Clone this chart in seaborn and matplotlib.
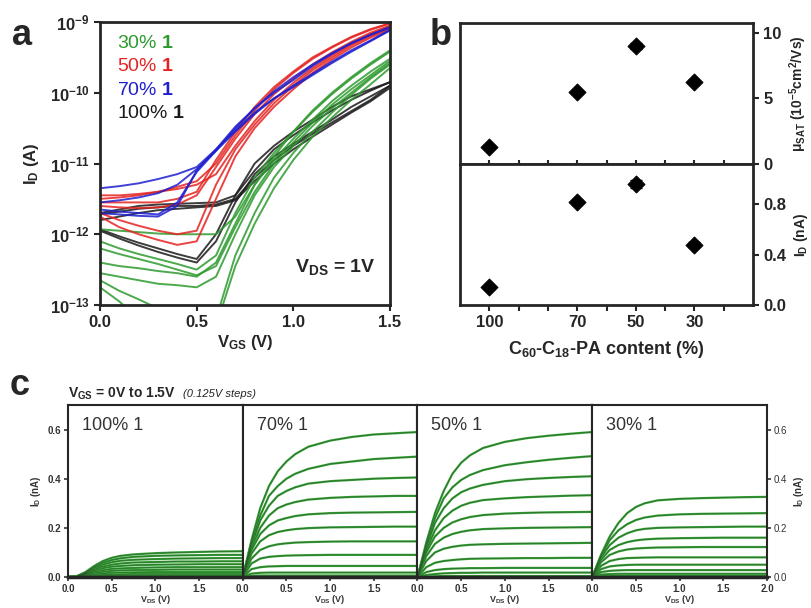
import numpy as np
import pandas as pd
import matplotlib
matplotlib.use("Agg")
import matplotlib.pyplot as plt
import seaborn as sns

sns.set_style("ticks")
plt.rcParams["font.family"] = ["Liberation Sans", "DejaVu Sans"]
plt.rcParams["mathtext.fontset"] = "custom"
plt.rcParams["mathtext.rm"] = "Liberation Sans"
plt.rcParams["mathtext.it"] = "Liberation Sans:italic"
plt.rcParams["mathtext.bf"] = "Liberation Sans:bold"

# ---------------- Panel a data: log10(I_D / A) vs V_GS ----------------
VGS_A = [0.0, 0.1, 0.2, 0.3, 0.4, 0.5, 0.6, 0.7, 0.8, 0.9, 1.0, 1.1, 1.2, 1.3, 1.4, 1.5]

logid_100 = [
    [-11.70, -11.65, -11.60, -11.58, -11.57, -11.56, -11.55, -11.45, -11.10, -10.80, -10.60, -10.42, -10.25, -10.10, -9.97, -9.85],
    [-11.72, -11.68, -11.64, -11.62, -11.60, -11.60, -11.58, -11.50, -11.20, -10.95, -10.75, -10.58, -10.42, -10.26, -10.10, -9.90],
    [-11.93, -12.03, -12.12, -12.20, -12.28, -12.35, -12.00, -11.45, -11.00, -10.75, -10.55, -10.38, -10.20, -10.05, -9.95, -9.85],
    [-11.95, -12.06, -12.16, -12.25, -12.33, -12.40, -12.10, -11.55, -11.15, -10.90, -10.72, -10.55, -10.38, -10.20, -10.05, -9.90],
    [-11.80, -11.75, -11.70, -11.66, -11.64, -11.62, -11.60, -11.52, -11.25, -11.00, -10.80, -10.62, -10.45, -10.28, -10.12, -9.93],
]
logid_70 = [
    [-11.35, -11.32, -11.28, -11.22, -11.15, -11.05, -10.80, -10.48, -10.22, -10.00, -9.82, -9.62, -9.45, -9.30, -9.18, -9.07],
    [-11.70, -11.72, -11.74, -11.75, -11.60, -11.10, -10.80, -10.53, -10.28, -10.08, -9.92, -9.75, -9.58, -9.42, -9.27, -9.12],
    [-11.55, -11.52, -11.48, -11.42, -11.30, -11.08, -10.82, -10.50, -10.22, -9.98, -9.78, -9.60, -9.44, -9.30, -9.18, -9.08],
    [-11.65, -11.68, -11.70, -11.72, -11.55, -11.12, -10.82, -10.55, -10.30, -10.08, -9.90, -9.73, -9.56, -9.40, -9.26, -9.11],
]
logid_50 = [
    [-11.50, -11.48, -11.45, -11.40, -11.33, -11.25, -11.00, -10.60, -10.25, -9.95, -9.72, -9.52, -9.36, -9.22, -9.11, -9.02],
    [-11.60, -11.62, -11.63, -11.62, -11.58, -11.45, -11.05, -10.65, -10.30, -10.02, -9.80, -9.60, -9.43, -9.28, -9.15, -9.05],
    [-11.70, -11.80, -11.88, -11.95, -12.00, -11.95, -11.30, -10.80, -10.45, -10.15, -9.90, -9.68, -9.50, -9.33, -9.20, -9.08],
    [-11.75, -11.90, -12.00, -12.08, -12.15, -12.10, -11.50, -10.90, -10.50, -10.20, -9.95, -9.72, -9.53, -9.36, -9.22, -9.10],
    [-11.45, -11.45, -11.43, -11.40, -11.36, -11.30, -11.15, -10.75, -10.40, -10.10, -9.86, -9.65, -9.47, -9.31, -9.17, -9.06],
    [-11.55, -11.55, -11.55, -11.55, -11.50, -11.40, -10.95, -10.55, -10.20, -9.92, -9.70, -9.50, -9.35, -9.21, -9.10, -9.02],
]
logid_30 = [
    [-11.93, -11.95, -11.97, -11.99, -12.00, -12.00, -12.00, -11.75, -11.30, -10.90, -10.55, -10.25, -10.00, -9.78, -9.58, -9.40],
    [-12.10, -12.20, -12.28, -12.35, -12.42, -12.50, -12.30, -11.70, -11.20, -10.85, -10.55, -10.27, -10.02, -9.80, -9.60, -9.42],
    [-12.40, -12.45, -12.48, -12.52, -12.55, -12.60, -12.40, -11.85, -11.30, -10.95, -10.65, -10.38, -10.12, -9.90, -9.70, -9.52],
    [-12.20, -12.28, -12.35, -12.42, -12.50, -12.58, -12.45, -11.90, -11.40, -11.00, -10.70, -10.42, -10.17, -9.95, -9.75, -9.55],
    [-12.55, -12.60, -12.65, -12.70, -12.72, -12.75, -12.60, -12.00, -11.45, -11.05, -10.75, -10.47, -10.22, -10.00, -9.78, -9.58],
    [-12.75, -12.95, -13.20, -13.40, -13.50, -13.50, -13.30, -12.45, -11.85, -11.35, -10.95, -10.62, -10.35, -10.10, -9.88, -9.65],
    [-12.65, -12.80, -12.92, -13.05, -13.20, -13.30, -13.20, -12.30, -11.70, -11.20, -10.85, -10.55, -10.28, -10.03, -9.80, -9.60],
]

# ---------------- Panel b data ----------------
content = [100, 70, 50, 30]
mobility = [1.3, 5.5, 9.0, 6.25]
mobility_err = [0.15, 0.15, 0.25, 0.15]
id_sat = [0.14, 0.82, 0.96, 0.48]
id_sat_err = [0.01, 0.015, 0.03, 0.02]

# ---------------- Panel c data: I_D (nA) vs V_DS ----------------
VDS_C = [0.0, 0.1, 0.2, 0.3, 0.4, 0.5, 0.6, 0.75, 1.0, 1.25, 1.5, 1.75, 2.0]

out_100 = [
    [0, 0.003, 0.020, 0.045, 0.065, 0.078, 0.086, 0.092, 0.097, 0.100, 0.102, 0.104, 0.105],
    [0, 0.003, 0.018, 0.040, 0.058, 0.069, 0.076, 0.082, 0.086, 0.088, 0.089, 0.090, 0.090],
    [0, 0.002, 0.016, 0.036, 0.051, 0.060, 0.066, 0.070, 0.073, 0.075, 0.076, 0.077, 0.077],
    [0, 0.002, 0.014, 0.031, 0.043, 0.050, 0.055, 0.059, 0.061, 0.063, 0.063, 0.064, 0.064],
    [0, 0.002, 0.012, 0.026, 0.036, 0.042, 0.045, 0.048, 0.050, 0.051, 0.052, 0.052, 0.052],
    [0, 0.001, 0.010, 0.021, 0.028, 0.033, 0.035, 0.037, 0.039, 0.040, 0.040, 0.040, 0.040],
    [0, 0.001, 0.008, 0.016, 0.021, 0.025, 0.027, 0.028, 0.029, 0.030, 0.030, 0.030, 0.030],
    [0, 0.001, 0.006, 0.011, 0.015, 0.017, 0.018, 0.019, 0.020, 0.020, 0.020, 0.020, 0.020],
    [0, 0.000, 0.004, 0.007, 0.009, 0.010, 0.011, 0.012, 0.012, 0.012, 0.012, 0.012, 0.012],
    [0, 0.000, 0.002, 0.004, 0.005, 0.006, 0.006, 0.006, 0.006, 0.006, 0.006, 0.006, 0.006],
    [0, 0.000, 0.001, 0.002, 0.002, 0.002, 0.002, 0.002, 0.002, 0.002, 0.002, 0.002, 0.002],
]
out_70 = [
    [0, 0.150, 0.280, 0.370, 0.430, 0.470, 0.500, 0.530, 0.555, 0.570, 0.580, 0.585, 0.590],
    [0, 0.140, 0.250, 0.330, 0.370, 0.400, 0.420, 0.440, 0.460, 0.470, 0.480, 0.485, 0.490],
    [0, 0.130, 0.230, 0.290, 0.330, 0.350, 0.365, 0.380, 0.390, 0.395, 0.400, 0.403, 0.405],
    [0, 0.120, 0.200, 0.250, 0.280, 0.295, 0.305, 0.315, 0.322, 0.326, 0.328, 0.330, 0.330],
    [0, 0.110, 0.175, 0.210, 0.230, 0.240, 0.248, 0.255, 0.260, 0.262, 0.263, 0.264, 0.265],
    [0, 0.095, 0.145, 0.170, 0.183, 0.190, 0.195, 0.199, 0.202, 0.203, 0.204, 0.205, 0.205],
    [0, 0.075, 0.110, 0.125, 0.133, 0.137, 0.140, 0.142, 0.144, 0.145, 0.145, 0.145, 0.145],
    [0, 0.055, 0.075, 0.082, 0.085, 0.087, 0.088, 0.089, 0.090, 0.090, 0.090, 0.090, 0.090],
    [0, 0.032, 0.040, 0.043, 0.044, 0.045, 0.045, 0.045, 0.045, 0.045, 0.045, 0.045, 0.045],
    [0, 0.014, 0.017, 0.018, 0.018, 0.018, 0.018, 0.018, 0.018, 0.018, 0.018, 0.018, 0.018],
    [0, 0.005, 0.006, 0.006, 0.006, 0.006, 0.006, 0.006, 0.006, 0.006, 0.006, 0.006, 0.006],
]
out_50 = [
    [0, 0.140, 0.260, 0.350, 0.420, 0.465, 0.495, 0.525, 0.550, 0.565, 0.575, 0.583, 0.590],
    [0, 0.130, 0.240, 0.320, 0.365, 0.395, 0.415, 0.435, 0.455, 0.467, 0.477, 0.485, 0.492],
    [0, 0.120, 0.220, 0.280, 0.320, 0.345, 0.360, 0.375, 0.390, 0.398, 0.403, 0.407, 0.410],
    [0, 0.110, 0.190, 0.240, 0.270, 0.290, 0.302, 0.313, 0.320, 0.325, 0.328, 0.331, 0.333],
    [0, 0.100, 0.165, 0.200, 0.222, 0.235, 0.244, 0.252, 0.258, 0.261, 0.263, 0.264, 0.265],
    [0, 0.085, 0.135, 0.160, 0.175, 0.184, 0.190, 0.195, 0.198, 0.200, 0.201, 0.202, 0.203],
    [0, 0.065, 0.100, 0.115, 0.123, 0.128, 0.131, 0.133, 0.135, 0.136, 0.137, 0.138, 0.139],
    [0, 0.040, 0.058, 0.065, 0.069, 0.072, 0.074, 0.075, 0.076, 0.077, 0.077, 0.078, 0.078],
    [0, 0.020, 0.028, 0.032, 0.034, 0.035, 0.036, 0.036, 0.037, 0.037, 0.037, 0.037, 0.037],
    [0, 0.008, 0.012, 0.015, 0.016, 0.017, 0.017, 0.018, 0.018, 0.018, 0.018, 0.018, 0.018],
    [0, 0.002, 0.003, 0.004, 0.004, 0.004, 0.004, 0.004, 0.004, 0.004, 0.004, 0.004, 0.004],
]
out_30 = [
    [0, 0.090, 0.165, 0.220, 0.260, 0.285, 0.300, 0.312, 0.318, 0.321, 0.323, 0.325, 0.326],
    [0, 0.085, 0.150, 0.190, 0.215, 0.232, 0.242, 0.250, 0.255, 0.257, 0.258, 0.259, 0.260],
    [0, 0.080, 0.130, 0.160, 0.178, 0.190, 0.196, 0.200, 0.202, 0.203, 0.204, 0.205, 0.205],
    [0, 0.070, 0.110, 0.130, 0.142, 0.149, 0.153, 0.156, 0.158, 0.159, 0.160, 0.160, 0.160],
    [0, 0.060, 0.090, 0.104, 0.112, 0.116, 0.118, 0.120, 0.121, 0.122, 0.122, 0.122, 0.122],
    [0, 0.045, 0.065, 0.073, 0.077, 0.078, 0.079, 0.080, 0.080, 0.080, 0.080, 0.080, 0.080],
    [0, 0.032, 0.043, 0.047, 0.049, 0.050, 0.050, 0.050, 0.050, 0.050, 0.050, 0.050, 0.050],
    [0, 0.020, 0.025, 0.027, 0.028, 0.028, 0.028, 0.028, 0.028, 0.028, 0.028, 0.028, 0.028],
    [0, 0.010, 0.012, 0.013, 0.013, 0.013, 0.013, 0.013, 0.013, 0.013, 0.013, 0.013, 0.013],
    [0, 0.004, 0.005, 0.005, 0.005, 0.005, 0.005, 0.005, 0.005, 0.005, 0.005, 0.005, 0.005],
]

panel_c_labels = ["100% 1", "70% 1", "50% 1", "30% 1"]
legend_a = ["30%", "50%", "70%", "100%"]

GREEN = "#2e9a2e"
RED = "#e52421"
BLUE = "#1f1fd0"
BLACK = "#1a1a1a"

W, H = 812, 608
fig = plt.figure(figsize=(W / 100, H / 100), dpi=100)


def fx(px):
    return px / W


def fy(py):
    return 1 - py / H


# ================= Panel a =================
axa = fig.add_axes([fx(100), fy(305), fx(390) - fx(100), fy(22) - fy(305)])
rows = []
for comp, curves in [("100%", logid_100), ("30%", logid_30), ("50%", logid_50), ("70%", logid_70)]:
    for k, c in enumerate(curves):
        for v, e in zip(VGS_A, c):
            rows.append((comp, f"{comp}-{k}", v, 10.0 ** e))
dfa = pd.DataFrame(rows, columns=["comp", "curve", "VGS", "ID"])
pal = {"30%": GREEN, "50%": RED, "70%": BLUE, "100%": BLACK}
sns.lineplot(data=dfa, x="VGS", y="ID", hue="comp", units="curve", estimator=None,
             palette=pal, lw=1.4, alpha=0.85, legend=False, sort=False, ax=axa)
axa.set_yscale("log")
axa.set_ylim(1e-13, 1e-9)
axa.set_xlim(0, 1.5)
axa.set_xticks([0, 0.5, 1.0, 1.5])
axa.set_xticklabels(["0.0", "0.5", "1.0", "1.5"], fontweight="bold", fontsize=12)
axa.set_yticks([1e-13, 1e-12, 1e-11, 1e-10, 1e-9])
axa.set_yticklabels([r"$\mathbf{10^{-13}}$", r"$\mathbf{10^{-12}}$", r"$\mathbf{10^{-11}}$",
                     r"$\mathbf{10^{-10}}$", r"$\mathbf{10^{-9}}$"], fontsize=12)
axa.yaxis.set_minor_locator(matplotlib.ticker.NullLocator())
axa.tick_params(direction="out", length=4, width=1.5)
for s in axa.spines.values():
    s.set_linewidth(2)
    s.set_visible(True)
axa.set_xlabel(r"$\mathbf{V_{GS}}$ (V)", fontsize=12, fontweight="bold", labelpad=2)
axa.set_ylabel(r"$\mathbf{I_{D}}$ (A)", fontsize=12, fontweight="bold", labelpad=6)
for i, (lab, col) in enumerate(zip(legend_a, [GREEN, RED, BLUE, BLACK])):
    axa.text(0.06, 0.955 - i * 0.083, lab + r" $\mathbf{1}$", color=col, fontsize=14,
             transform=axa.transAxes, va="top", ha="left")
axa.text(0.95, 0.10, r"$\mathbf{V_{DS}}$ = 1V", fontsize=14, fontweight="bold", ha="right",
         va="bottom", transform=axa.transAxes)

# ================= Panel b =================
axb1 = fig.add_axes([fx(460), fy(164), fx(753) - fx(460), fy(23) - fy(164)])
axb2 = fig.add_axes([fx(460), fy(305), fx(753) - fx(460), fy(164) - fy(305)], sharex=axb1)
sns.scatterplot(x=content, y=mobility, marker="D", s=75, color="black", edgecolor="black", ax=axb1, zorder=3)
axb1.errorbar(content, mobility, yerr=mobility_err, fmt="none", ecolor="black", capsize=4, lw=1.3)
sns.scatterplot(x=content, y=id_sat, marker="D", s=75, color="black", edgecolor="black", ax=axb2, zorder=3)
axb2.errorbar(content, id_sat, yerr=id_sat_err, fmt="none", ecolor="black", capsize=4, lw=1.3)
axb1.set_xlim(110, 10)
axb1.set_ylim(0, 10.75)
axb2.set_ylim(0, 1.12)
xt = [100, 90, 80, 70, 60, 50, 40, 30, 20]
axb2.set_xticks(xt)
axb2.set_xticklabels([str(v) if v in content else "" for v in xt], fontweight="bold", fontsize=12)
axb1.tick_params(axis="x", which="both", direction="inout", length=6, width=1.5, labelbottom=False)
axb2.tick_params(axis="x", direction="out", length=4, width=1.5)
for ax, ticks, labs in [(axb1, [0, 5, 10], ["0", "5", "10"]),
                        (axb2, [0.0, 0.4, 0.8], ["0.0", "0.4", "0.8"])]:
    ax.yaxis.tick_right()
    ax.yaxis.set_label_position("right")
    ax.set_yticks(ticks)
    ax.set_yticklabels(labs, fontweight="bold", fontsize=12)
    ax.tick_params(axis="y", direction="out", length=4, width=1.5)
    for s in ax.spines.values():
        s.set_linewidth(2)
        s.set_visible(True)
axb1.set_ylabel(r"$\mathbf{\mu_{SAT}}$ (10$^{\mathbf{-5}}$cm$^{\mathbf{2}}$/Vs)", fontsize=10,
                fontweight="bold", labelpad=4)
axb2.set_ylabel(r"$\mathbf{I_{D}}$ (nA)", fontsize=10, fontweight="bold", labelpad=4)
axb2.set_xlabel(r"C$_{\mathbf{60}}$-C$_{\mathbf{18}}$-PA content (%)", fontsize=13,
                fontweight="bold", labelpad=6)

# ================= Panel c =================
left, right, top, bottom = 68, 767, 405, 577
pw = (right - left) / 4
for i, (lab, data) in enumerate(zip(panel_c_labels, [out_100, out_70, out_50, out_30])):
    x0 = left + i * pw
    ax = fig.add_axes([fx(x0), fy(bottom), pw / W, fy(top) - fy(bottom)])
    rows = []
    for k, c in enumerate(data):
        for v, val in zip(VDS_C, c):
            rows.append((k, v, val))
    dfc = pd.DataFrame(rows, columns=["curve", "VDS", "ID"])
    sns.lineplot(data=dfc, x="VDS", y="ID", units="curve", estimator=None, color="#35a035",
                 lw=1.6, legend=False, sort=False, ax=ax)
    sns.lineplot(data=dfc, x="VDS", y="ID", units="curve", estimator=None, color="#2a4a2a",
                 lw=0.45, alpha=0.7, legend=False, sort=False, ax=ax)
    ax.set_xlim(0, 2.0)
    ax.set_ylim(0, 0.70)
    if i < 3:
        ax.set_xticks([0, 0.5, 1.0, 1.5])
        ax.set_xticklabels(["0.0", "0.5", "1.0", "1.5"])
    else:
        ax.set_xticks([0, 0.5, 1.0, 1.5, 2.0])
        ax.set_xticklabels(["0.0", "0.5", "1.0", "1.5", "2.0"])
    ax.set_yticks([0.0, 0.2, 0.4, 0.6])
    ax.set_yticklabels(["0.0", "0.2", "0.4", "0.6"])
    ax.tick_params(labelsize=7, direction="out", length=3, width=1.2, colors="#333333", pad=2)
    for t in ax.get_xticklabels() + ax.get_yticklabels():
        t.set_fontweight("bold")
    if i == 0:
        ax.set_ylabel(r"$\mathbf{I_{D}}$ (nA)", fontsize=7, fontweight="bold", color="#333333", labelpad=3)
    elif i == 3:
        ax.yaxis.tick_right()
        ax.yaxis.set_label_position("right")
        ax.set_ylabel(r"$\mathbf{I_{D}}$ (nA)", fontsize=7, fontweight="bold", color="#333333", labelpad=3)
    else:
        ax.tick_params(axis="y", left=False, labelleft=False)
        ax.set_ylabel("")
    ax.set_xlabel(r"$\mathbf{V_{DS}}$ (V)", fontsize=6.5, fontweight="bold", color="#333333", labelpad=-1)
    for s in ax.spines.values():
        s.set_linewidth(1.5)
        s.set_visible(True)
    ax.spines["bottom"].set_linewidth(2.5)
    ax.text(0.08, 0.93, lab, transform=ax.transAxes, fontsize=13, color="#333333", va="top", ha="left")

fig.text(fx(68), fy(394), r"$\mathbf{V_{GS}}$ = 0V to 1.5V", fontsize=10, fontweight="bold",
         va="center", ha="left")
fig.text(fx(183), fy(394), "(0.125V steps)", fontsize=8, style="italic", va="center", ha="left",
         color="#222222")

# Panel letters
fig.text(fx(12), fy(45), "a", fontsize=26, fontweight="bold", va="baseline")
fig.text(fx(430), fy(45), "b", fontsize=26, fontweight="bold", va="baseline")
fig.text(fx(10), fy(395), "c", fontsize=26, fontweight="bold", va="baseline")

fig.savefig("out.png", dpi=100)
